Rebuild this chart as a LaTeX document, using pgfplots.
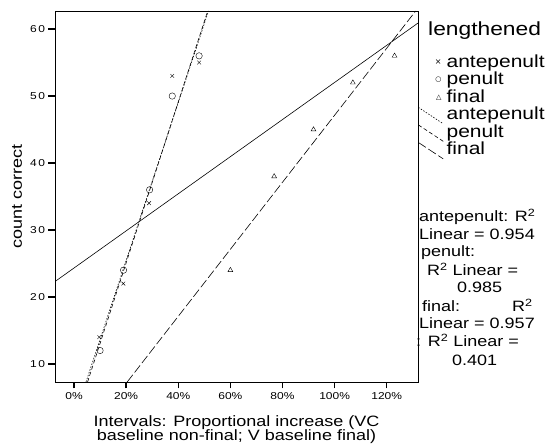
\documentclass[border=0pt]{standalone}
\usepackage{fontspec}
\setmainfont[FakeStretch=1.2]{Liberation Sans}
\newfontfamily\ytickfont[FakeStretch=1.2,LetterSpace=15]{Liberation Sans}
\newfontfamily\symfont{DejaVu Sans}
\usepackage{pgfplots}
\pgfplotsset{compat=1.18}

\pgfplotsset{
  antefit/.style={black, line width=0.6pt, dash pattern=on 1.5pt off 1.5pt},
  penfit/.style={black, line width=0.6pt, dash pattern=on 4pt off 2.5pt},
  finfit/.style={black, line width=0.6pt, dash pattern=on 9pt off 3pt},
  lineimg/.style={legend image code/.code={%
      \draw[##1] (0pt,8.5pt) -- (25pt,-8pt);}},
  noimg/.style={legend image code/.code={}},
}
% legend symbols set as text, to the left of the entry text
\newcommand\legsym[2]{\llap{\raisebox{3pt}{\symfont\fontsize{#1}{#1}\selectfont #2}\hspace{5pt}}}

\begin{document}
\begin{tikzpicture}
\useasboundingbox (0pt,0pt) rectangle (547pt,444pt);
\begin{axis}[
  at={(55pt,62pt)}, anchor=south west,
  scale only axis, width=363pt, height=371pt,
  xmin=-7.3, xmax=132, ymin=7.3, ymax=62.7,
  xtick={0,20,40,60,80,100,120},
  xticklabels={0\%,20\%,40\%,60\%,80\%,100\%,120\%},
  ytick={10,20,30,40,50,60},
  yticklabels={10,20,30,40,50,60},
  xtick pos=bottom, ytick pos=left, tick align=outside,
  major tick length=6.5pt,
  every tick/.style={black, line width=1.3pt},
  axis line style={line width=0.9pt},
  xticklabel style={font=\fontsize{10}{12}\selectfont},
  yticklabel style={font=\ytickfont\fontsize{10}{12}\selectfont},
  xlabel={Intervals: Proportional increase (VC\\baseline non-final; V baseline final)},
  ylabel={count correct},
  every axis x label/.style={at={(axis description cs:0.5,-0.089)}, anchor=north,
    align=center, inner sep=0pt, font=\fontsize{15}{14}\selectfont},
  every axis y label/.style={at={(axis description cs:-0.1047,0.5)}, rotate=90,
    anchor=center, inner sep=0pt, font=\fontsize{15}{14}\selectfont},
  legend style={at={(axis description cs:1,0.8827)}, anchor=north west,
    draw=none, fill=none, inner sep=0pt, outer sep=0pt,
    font=\fontsize{17.5}{17.5}\selectfont, row sep=0pt, column sep=3pt,
    nodes={inner sep=0pt, text height=12.5pt, text depth=5pt},
    cells={anchor=west}},
]
% points
\addplot[only marks, mark=x, mark size=2.6pt, black, forget plot]
  coordinates {(9.7,14) (18.9,22) (28.8,34) (37.7,53) (48,55)};
\addlegendimage{noimg}
\addlegendentry{\legsym{8}{×}antepenult}
\addplot[only marks, mark=o, mark size=3.2pt, black, forget plot]
  coordinates {(10,12) (19,24) (29,36) (37.7,50) (48,56)};
\addlegendimage{noimg}
\addlegendentry{\legsym{7}{○}penult}
\addplot[only marks, mark=triangle, mark size=2.8pt, black, forget plot]
  coordinates {(60,24) (76.8,38) (91.9,45) (107,52) (123,56)};
\addlegendimage{noimg}
\addlegendentry{\legsym{7}{△}final}
% fit lines
\addplot[antefit, lineimg] coordinates {(4.6,7.3) (51.6,62.7)};
\addlegendentry{antepenult}
\addplot[penfit, lineimg] coordinates {(5.2,7.3) (51.3,62.7)};
\addlegendentry{penult}
\addplot[finfit, lineimg] coordinates {(20.4,7.3) (131.1,62.7)};
\addlegendentry{final}
\addplot[black, line width=0.6pt, forget plot] coordinates {(-7.3,22.3) (132,60.9)};
\end{axis}

\node[anchor=base west, inner sep=0pt, font=\fontsize{19}{19}\selectfont] at (428pt,408pt) {lengthened};

\begin{scope}[every node/.style={anchor=base west, inner sep=0pt, font=\fontsize{15}{18}\selectfont}]
\node at (419pt,222pt) {antepenult: R\textsuperscript{2}};
\node at (419pt,204pt) {Linear = 0.954};
\node at (421pt,187pt) {penult:};
\node at (427pt,168pt) {R\textsuperscript{2} Linear =};
\node at (457pt,151pt) {0.985};
\node at (422pt,132pt) {final:};
\node at (512pt,132pt) {R\textsuperscript{2}};
\node at (419pt,115pt) {Linear = 0.957};
\node at (416pt,97pt) {: R\textsuperscript{2} Linear =};
\node at (452pt,78pt) {0.401};
\end{scope}
\end{tikzpicture}
\end{document}
